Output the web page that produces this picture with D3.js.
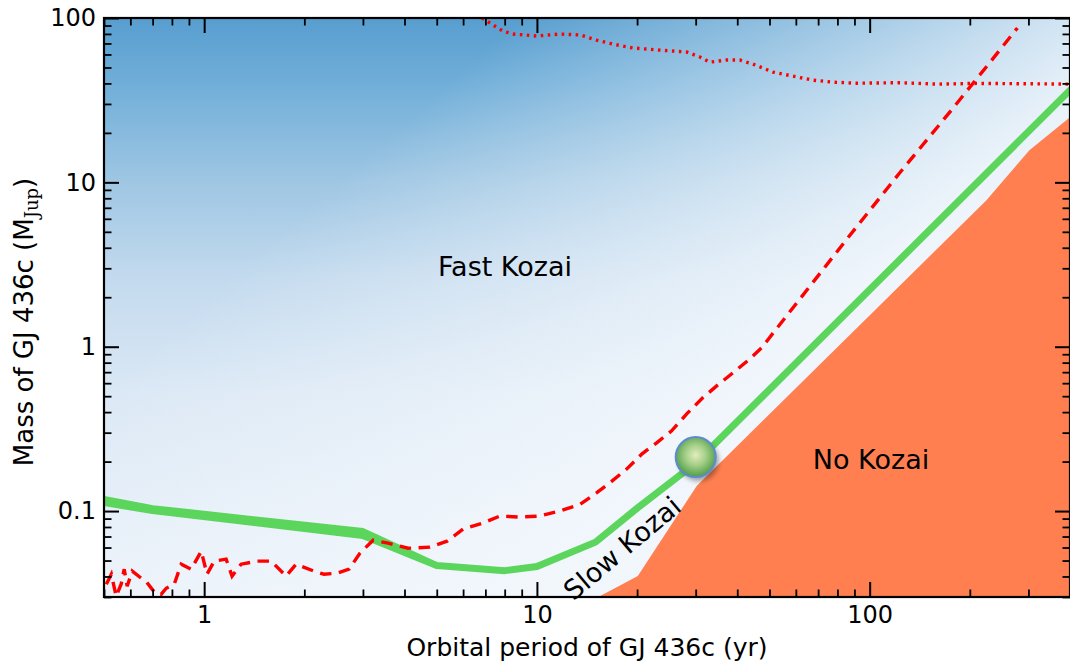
<!DOCTYPE html>
<html>
<head>
<meta charset="utf-8">
<script src="https://cdn.jsdelivr.net/npm/d3@7"></script>
<style>
	body { margin: 0; background: #fff; }
	svg { display: block; font-family: "DejaVu Sans", sans-serif; }
</style>
</head>
<body>
<svg id="chart" width="1070" height="666"></svg>
<script>
// ---- data (period in yr, mass in M_Jup) ----
const xTicksMajor = [1, 10, 100];
const xTickLabels = ["1", "10", "100"];
const xTicksMinor = [0.5, 0.6, 0.7, 0.8, 0.9, 2, 3, 4, 5, 6, 7, 8, 9,
	20, 30, 40, 50, 60, 70, 80, 90, 200, 300, 400];
const yTicksMajor = [0.1, 1, 10, 100];
const yTickLabels = ["0.1", "1", "10", "100"];
const yTicksMinor = [0.03, 0.04, 0.05, 0.06, 0.07, 0.08, 0.09,
	0.2, 0.3, 0.4, 0.5, 0.6, 0.7, 0.8, 0.9, 2, 3, 4, 5, 6, 7, 8, 9,
	20, 30, 40, 50, 60, 70, 80, 90];

// green Kozai boundary (band on the left, line on the right)
const greenP = [0.5, 0.7, 3, 5, 8, 10, 15, 20, 30, 400];
const greenLo = [0.1127, 0.1007, 0.071, 0.0466, 0.0434, 0.046, 0.0647, 0.104, 0.196, 36.4];
const greenHi = [0.1175, 0.1035, 0.075, 0.0466, 0.0434, 0.046, 0.0647, 0.104, 0.196, 36.4];

// red dashed limit
const dashedP = [0.508, 0.526, 0.544, 0.563, 0.575, 0.587, 0.608, 0.647, 0.669, 0.698,
	0.718, 0.743, 0.769, 0.813, 0.853, 0.914, 0.98, 1.02, 1.072, 1.164,
	1.213, 1.291, 1.443, 1.589, 1.763, 1.889, 2.138, 2.291, 2.507, 2.725,
	2.94, 3.22, 3.57, 4.1, 4.77, 5.37, 6.0, 6.88, 7.74, 8.89,
	10.2, 11.7, 13.5, 15.1, 16.8, 18.6, 20.7, 22.9, 25.4, 28.2,
	31.5, 34.7, 38.8, 43.0, 47.4, 51.9, 67.4, 87.1, 123, 176, 229, 278];
const dashedM = [0.0359, 0.0413, 0.0303, 0.0359, 0.0443, 0.0349, 0.0431, 0.039, 0.0374, 0.0334,
	0.0312, 0.0312, 0.0339, 0.0359, 0.0475, 0.0443, 0.057, 0.0413, 0.0496, 0.051,
	0.0402, 0.0475, 0.0496, 0.0496, 0.0402, 0.0475, 0.0431, 0.0413, 0.0419, 0.0443,
	0.0555, 0.0665, 0.0638, 0.0594, 0.0603, 0.0656, 0.0777, 0.0845, 0.0933, 0.0919,
	0.0933, 0.1, 0.11, 0.129, 0.152, 0.18, 0.223, 0.26, 0.308, 0.39,
	0.489, 0.578, 0.693, 0.822, 0.986, 1.25, 2.45, 4.75, 11.4, 27.5, 53.2, 87];

// red dotted limit at the top
const dottedP = [6.84, 7.38, 7.9, 8.47, 10, 11.7, 13.5, 15.1, 16.9, 19.4,
	23.4, 28.2, 30.9, 33.1, 37.2, 40.7, 44.5, 51.2, 58.7, 67.4,
	77.4, 91.4, 123, 160, 210, 300, 400];
const dottedM = [100, 90.7, 83.3, 79.9, 77.7, 79.9, 78.8, 73.4, 69.4, 65.7,
	63.8, 62.1, 57.9, 53.9, 55.5, 55.5, 52.5, 46.9, 44.3, 41.9,
	40.7, 40.1, 40.4, 39.6, 40.0, 39.8, 39.6];

// "No Kozai" region outline
const noKozaiP = [15.3, 20.1, 30.2, 224, 302, 400, 400];
const noKozaiM = [0.03, 0.0402, 0.142, 7.76, 15.7, 24.9, 0.03];

// GJ 436c
const planetP = 30;
const planetM = 0.213;

// ---- layout ----
const svg = d3.select("#chart");
const width = +svg.attr("width");
const height = +svg.attr("height");
const margin = { top: 18, right: 0, bottom: 69, left: 104 };

const x = d3.scaleLog().domain([0.5, 400]).range([margin.left, width - margin.right]);
const y = d3.scaleLog().domain([0.03, 100]).range([height - margin.bottom, margin.top]);

const x0 = x.range()[0], x1 = x.range()[1];
const y0 = y.range()[1], y1 = y.range()[0];

const defs = svg.append("defs");

defs.append("clipPath").attr("id", "plotClip")
	.append("rect")
	.attr("x", x0).attr("y", y0)
	.attr("width", x1 - x0).attr("height", y1 - y0);

// background field: vertical blue fade plus a whitening toward the boundary
const bgV = defs.append("linearGradient")
	.attr("id", "bgV")
	.attr("gradientUnits", "userSpaceOnUse")
	.attr("x1", 0).attr("y1", y0)
	.attr("x2", 0).attr("y2", y1);
[[0, "#579ecf"], [0.12, "#72afd9"], [0.28, "#9ec6e3"], [0.45, "#c3daee"],
	[0.65, "#dbe8f5"], [1, "#eaf1f9"]].forEach(([o, c]) =>
	bgV.append("stop").attr("offset", o).attr("stop-color", c));

// normal of the green line direction in pixel space
const ga = [x(10), y(0.046)], gb = [x(400), y(36.4)];
let nx = -(gb[1] - ga[1]), ny = gb[0] - ga[0];
const nl = Math.hypot(nx, ny);
nx /= nl; ny /= nl;
const bgD = defs.append("linearGradient")
	.attr("id", "bgD")
	.attr("gradientUnits", "userSpaceOnUse")
	.attr("x1", ga[0] - 420 * nx).attr("y1", ga[1] - 420 * ny)
	.attr("x2", ga[0] + 10 * nx).attr("y2", ga[1] + 10 * ny);
bgD.append("stop").attr("offset", 0).attr("stop-color", "#f2f7fc").attr("stop-opacity", 0);
bgD.append("stop").attr("offset", 1).attr("stop-color", "#f2f7fc").attr("stop-opacity", 0.93);

const planetGrad = defs.append("radialGradient")
	.attr("id", "planetGrad")
	.attr("cx", "50%").attr("cy", "45%").attr("r", "55%");
planetGrad.append("stop").attr("offset", 0).attr("stop-color", "#e3ecbf");
planetGrad.append("stop").attr("offset", 0.45).attr("stop-color", "#a6d08a");
planetGrad.append("stop").attr("offset", 1).attr("stop-color", "#4f9c45");

defs.append("filter").attr("id", "blur")
	.attr("x", "-50%").attr("y", "-50%").attr("width", "200%").attr("height", "200%")
	.append("feGaussianBlur").attr("stdDeviation", 2.5);

const plot = svg.append("g").attr("clip-path", "url(#plotClip)");

plot.append("rect")
	.attr("x", x0).attr("y", y0)
	.attr("width", x1 - x0).attr("height", y1 - y0)
	.attr("fill", "url(#bgV)");
plot.append("rect")
	.attr("x", x0).attr("y", y0)
	.attr("width", x1 - x0).attr("height", y1 - y0)
	.attr("fill", "url(#bgD)");

// No Kozai region
plot.append("path")
	.datum(noKozaiP.map((p, i) => [p, noKozaiM[i]]))
	.attr("fill", "#ff7f50")
	.attr("d", d3.line().x((d) => x(d[0])).y((d) => y(d[1])).curve(d3.curveLinearClosed));

// green boundary
plot.append("path")
	.datum(greenP.map((p, i) => [p, greenLo[i], greenHi[i]]))
	.attr("fill", "#5cd55c")
	.attr("stroke", "#5cd55c")
	.attr("stroke-width", 7)
	.attr("stroke-linejoin", "round")
	.attr("d", d3.area().x((d) => x(d[0])).y0((d) => y(d[1])).y1((d) => y(d[2])));

// red dashed
plot.append("path")
	.datum(dashedP.map((p, i) => [p, dashedM[i]]))
	.attr("fill", "none")
	.attr("stroke", "#ff0000")
	.attr("stroke-width", 3.4)
	.attr("stroke-dasharray", "11.5,7.5")
	.attr("d", d3.line().x((d) => x(d[0])).y((d) => y(d[1])));

// red dotted
plot.append("path")
	.datum(dottedP.map((p, i) => [p, dottedM[i]]))
	.attr("fill", "none")
	.attr("stroke", "#ff0000")
	.attr("stroke-width", 3.4)
	.attr("stroke-dasharray", "2.5,4.5")
	.attr("d", d3.line().x((d) => x(d[0])).y((d) => y(d[1])));

// planet marker
plot.append("circle")
	.attr("cx", x(planetP) + 3).attr("cy", y(planetM) + 4)
	.attr("r", 20)
	.attr("fill", "#000")
	.attr("opacity", 0.35)
	.attr("filter", "url(#blur)");
plot.append("circle")
	.attr("cx", x(planetP)).attr("cy", y(planetM))
	.attr("r", 20)
	.attr("fill", "url(#planetGrad)")
	.attr("stroke", "#5b8bd2")
	.attr("stroke-width", 2);

// region labels
const labels = svg.append("g").attr("font-size", 27).attr("fill", "#000");
labels.append("text")
	.attr("x", 505).attr("y", 276)
	.attr("text-anchor", "middle")
	.text("Fast Kozai");
labels.append("text")
	.attr("x", 871).attr("y", 469)
	.attr("text-anchor", "middle")
	.text("No Kozai");
labels.append("text")
	.attr("transform", "translate(622,548) rotate(-40)")
	.attr("text-anchor", "middle")
	.attr("dy", "0.36em")
	.text("Slow Kozai");

// ---- axes: ticks point inward on all four sides ----
function styleAxis(g, w) {
	g.select(".domain").remove();
	g.selectAll(".tick line").attr("stroke", "#000").attr("stroke-width", w);
	g.selectAll(".tick text").attr("fill", "#000").attr("font-size", 24)
		.attr("font-family", "DejaVu Sans, sans-serif");
}

svg.append("g")
	.attr("transform", `translate(0,${y1})`)
	.call(d3.axisBottom(x).tickValues(xTicksMajor)
		.tickFormat((d, i) => xTickLabels[i]).tickSize(-15).tickPadding(9))
	.call((g) => styleAxis(g, 2));
svg.append("g")
	.attr("transform", `translate(0,${y1})`)
	.call(d3.axisBottom(x).tickValues(xTicksMinor).tickFormat("").tickSize(-7.5))
	.call((g) => styleAxis(g, 1.8));
svg.append("g")
	.attr("transform", `translate(0,${y0})`)
	.call(d3.axisTop(x).tickValues(xTicksMajor).tickFormat("").tickSize(-15))
	.call((g) => styleAxis(g, 2));
svg.append("g")
	.attr("transform", `translate(0,${y0})`)
	.call(d3.axisTop(x).tickValues(xTicksMinor).tickFormat("").tickSize(-7.5))
	.call((g) => styleAxis(g, 1.8));

svg.append("g")
	.attr("transform", `translate(${x0},0)`)
	.call(d3.axisLeft(y).tickValues(yTicksMajor)
		.tickFormat((d, i) => yTickLabels[i]).tickSize(-15).tickPadding(8))
	.call((g) => styleAxis(g, 2));
svg.append("g")
	.attr("transform", `translate(${x0},0)`)
	.call(d3.axisLeft(y).tickValues(yTicksMinor).tickFormat("").tickSize(-7.5))
	.call((g) => styleAxis(g, 1.8));
svg.append("g")
	.attr("transform", `translate(${x1},0)`)
	.call(d3.axisRight(y).tickValues(yTicksMajor).tickFormat("").tickSize(-15))
	.call((g) => styleAxis(g, 2));
svg.append("g")
	.attr("transform", `translate(${x1},0)`)
	.call(d3.axisRight(y).tickValues(yTicksMinor).tickFormat("").tickSize(-7.5))
	.call((g) => styleAxis(g, 1.8));

// frame
svg.append("rect")
	.attr("x", x0).attr("y", y0)
	.attr("width", x1 - x0).attr("height", y1 - y0)
	.attr("fill", "none")
	.attr("stroke", "#000")
	.attr("stroke-width", 2.2);

// axis titles
svg.append("text")
	.attr("x", (x0 + x1) / 2).attr("y", 656)
	.attr("text-anchor", "middle")
	.attr("font-size", 25)
	.text("Orbital period of GJ 436c (yr)");

const yl = svg.append("text")
	.attr("transform", "translate(33,322) rotate(-90)")
	.attr("text-anchor", "middle")
	.attr("font-size", 26);
yl.append("tspan").text("Mass of GJ 436c (M");
yl.append("tspan")
	.attr("font-family", "DejaVu Serif, serif")
	.attr("font-size", 18)
	.attr("dy", 5)
	.text("Jup");
yl.append("tspan").attr("dy", -5).text(")");
</script>
</body>
</html>
